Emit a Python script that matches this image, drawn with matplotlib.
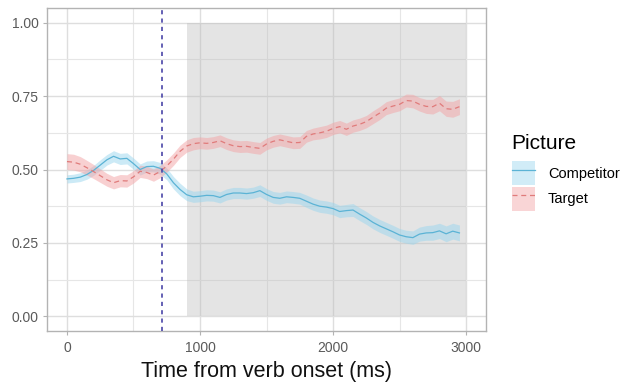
import matplotlib
matplotlib.use("Agg")
import matplotlib.pyplot as plt
import numpy as np
from matplotlib.lines import Line2D
from matplotlib.patches import Patch
from matplotlib.ticker import MultipleLocator

plt.rcParams["font.family"] = ["Liberation Sans", "DejaVu Sans"]

# time bins (ms from verb onset)
time_ms = [0, 50, 100, 150, 200, 250, 300, 350, 400, 450,
           500, 550, 600, 650, 700, 750, 800, 850, 900, 950,
           1000, 1050, 1100, 1150, 1200, 1250, 1300, 1350, 1400, 1450,
           1500, 1550, 1600, 1650, 1700, 1750, 1800, 1850, 1900, 1950,
           2000, 2050, 2100, 2150, 2200, 2250, 2300, 2350, 2400, 2450,
           2500, 2550, 2600, 2650, 2700, 2750, 2800, 2850, 2900, 2950]

# proportion of looks to the competitor picture
competitor = [0.468, 0.470, 0.474, 0.483, 0.497, 0.515, 0.533, 0.545, 0.536, 0.538,
              0.520, 0.500, 0.510, 0.511, 0.504, 0.485, 0.455, 0.432, 0.414, 0.407,
              0.409, 0.412, 0.411, 0.405, 0.415, 0.420, 0.420, 0.418, 0.421, 0.428,
              0.415, 0.405, 0.402, 0.407, 0.405, 0.402, 0.392, 0.382, 0.375, 0.372,
              0.367, 0.357, 0.360, 0.362, 0.348, 0.335, 0.320, 0.308, 0.298, 0.288,
              0.277, 0.271, 0.268, 0.280, 0.284, 0.285, 0.291, 0.281, 0.290, 0.284]
competitor_se = [0.014, 0.014, 0.015, 0.016, 0.017, 0.018, 0.018, 0.019, 0.019, 0.019,
                 0.019, 0.019, 0.019, 0.019, 0.020, 0.020, 0.021, 0.021, 0.020, 0.019,
                 0.019, 0.019, 0.019, 0.019, 0.019, 0.019, 0.019, 0.019, 0.019, 0.020,
                 0.020, 0.020, 0.020, 0.020, 0.020, 0.020, 0.021, 0.021, 0.021, 0.021,
                 0.021, 0.021, 0.021, 0.022, 0.022, 0.022, 0.022, 0.022, 0.022, 0.022,
                 0.022, 0.022, 0.023, 0.024, 0.025, 0.026, 0.026, 0.027, 0.027, 0.027]

# proportion of looks to the target picture
target = [0.527, 0.525, 0.518, 0.506, 0.493, 0.479, 0.465, 0.455, 0.462, 0.461,
          0.475, 0.494, 0.490, 0.481, 0.493, 0.512, 0.535, 0.562, 0.580, 0.588,
          0.591, 0.589, 0.592, 0.598, 0.588, 0.581, 0.578, 0.579, 0.575, 0.572,
          0.587, 0.596, 0.601, 0.596, 0.591, 0.592, 0.613, 0.621, 0.625, 0.630,
          0.640, 0.646, 0.637, 0.648, 0.654, 0.663, 0.678, 0.692, 0.709, 0.716,
          0.722, 0.735, 0.733, 0.722, 0.715, 0.714, 0.726, 0.707, 0.705, 0.714]
target_se = [0.027, 0.027, 0.026, 0.025, 0.024, 0.023, 0.022, 0.021, 0.021, 0.021,
             0.021, 0.021, 0.021, 0.021, 0.021, 0.021, 0.021, 0.021, 0.021, 0.021,
             0.020, 0.020, 0.020, 0.020, 0.020, 0.020, 0.020, 0.020, 0.020, 0.020,
             0.020, 0.020, 0.020, 0.020, 0.020, 0.020, 0.020, 0.020, 0.021, 0.021,
             0.021, 0.021, 0.021, 0.021, 0.021, 0.021, 0.022, 0.022, 0.022, 0.022,
             0.022, 0.022, 0.023, 0.023, 0.024, 0.025, 0.026, 0.026, 0.027, 0.027]

verb_offset_ms = 715
window_start_ms = 900
window_end_ms = 3000

series_labels = ["Competitor", "Target"]
line_colors = ["#5bb3d5", "#e07b7b"]
fill_colors = ["#9ad6ee", "#f3a3a5"]
line_styles = ["-", (0, (4, 3))]

t = np.array(time_ms)
means = [np.array(competitor), np.array(target)]
ses = [np.array(competitor_se), np.array(target_se)]

fig = plt.figure(figsize=(6.22, 3.87), dpi=100)
ax = fig.add_axes([0.0756, 0.1447, 0.7058, 0.8346])

ax.set_xlim(-150, 3150)
ax.set_ylim(-0.05, 1.05)

# grid: major + minor, like a light ggplot theme
ax.xaxis.set_major_locator(MultipleLocator(1000))
ax.xaxis.set_minor_locator(MultipleLocator(500))
ax.yaxis.set_major_locator(MultipleLocator(0.25))
ax.yaxis.set_minor_locator(MultipleLocator(0.125))
ax.grid(which="major", color="#dedede", linewidth=1.0, zorder=0)
ax.grid(which="minor", color="#e6e6e6", linewidth=0.8, zorder=0)
ax.set_axisbelow(True)

# analysis window
ax.fill_between([window_start_ms, window_end_ms], 0, 1,
                color="#bdbdbd", alpha=0.4, linewidth=0, zorder=1)

for m, se, lc, fc, ls in zip(means, ses, line_colors, fill_colors, line_styles):
    ax.fill_between(t, m - se, m + se, color=fc, alpha=0.5, linewidth=0, zorder=2)
    ax.plot(t, m, color=lc, linestyle=ls, linewidth=0.9, zorder=3)

ax.axvline(verb_offset_ms, color="#4a46a8", linestyle=(0, (2.5, 2.5)),
           linewidth=1.2, zorder=4)

for s in ax.spines.values():
    s.set_color("#b3b3b3")
    s.set_linewidth(1.0)

ax.set_yticks([0, 0.25, 0.5, 0.75, 1.0])
ax.set_yticklabels(["0.00", "0.25", "0.50", "0.75", "1.00"])
ax.tick_params(which="major", length=3, width=0.8, color="#b3b3b3",
               labelcolor="#5a5a5a", labelsize=10, pad=3)
ax.tick_params(axis="x", pad=4.5)
ax.tick_params(which="minor", length=0)

ax.set_xlabel("Time from verb onset (ms)", fontsize=15.5, color="#111111",
              labelpad=4)

handles = [(Patch(facecolor=fc, alpha=0.45, edgecolor="none"),
            Line2D([], [], color=lc, linestyle=ls, linewidth=0.9))
           for lc, fc, ls in zip(line_colors, fill_colors, line_styles)]
leg = fig.legend(handles, series_labels, title="Picture",
                 loc="upper left", bbox_to_anchor=(0.806, 0.68),
                 frameon=False, fontsize=10.5, title_fontsize=15,
                 handlelength=1.6, handleheight=2.1, handletextpad=0.9,
                 labelspacing=0.15, alignment="left", borderpad=0.2)
leg._legend_box.sep = 6

fig.savefig("out.png", dpi=100, facecolor="white")
